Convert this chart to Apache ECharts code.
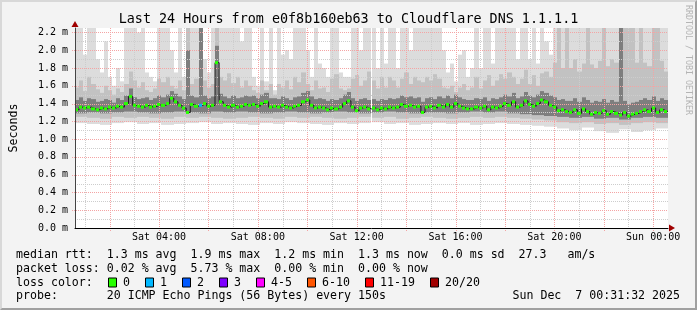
<!DOCTYPE html>
<html><head><meta charset="utf-8">
<script src="https://cdn.jsdelivr.net/npm/echarts@6/dist/echarts.min.js"></script>
<style>
html,body{margin:0;padding:0;background:#f3f3f3;}
#wrap{position:relative;width:697px;height:310px;overflow:hidden;}
#chart{position:absolute;left:0;top:0;width:697px;height:310px;}
#frame{position:absolute;left:0;top:0;width:697px;height:310px;box-sizing:border-box;border-top:2px solid #d8d8d8;border-left:2px solid #d8d8d8;border-right:2px solid #a0a0a0;border-bottom:2px solid #a0a0a0;pointer-events:none;}
</style></head><body>
<div id="wrap"><div id="chart"></div><div id="frame"></div></div>
<script>
// time: hours since Sat 00:00; one column every 10 minutes, starting Sat 00:36
const startHour = 0.6;
const endHour = 24.6;
const stepHours = 1 / 6;
const xTickHours = [4, 8, 12, 16, 20, 24];
const gridHours = [1,2,3,4,5,6,7,8,9,10,11,12,13,14,15,16,17,18,19,20,21,22,23,24];
const gridLevels = [0.1,0.2,0.3,0.4,0.5,0.6,0.7,0.8,0.9,1.0,1.1,1.2,1.3,1.4,1.5,1.6,1.7,1.8,1.9,2.0,2.1,2.2];
const dayNames = ['Sat', 'Sun'];

// median rtt (ms)
const median = [
1.33,1.36,1.35,1.36,1.34,1.33, 1.35,1.34,1.36,1.35,1.37,1.36, 1.40,1.48,1.38,1.37,1.36,1.38,
1.36,1.37,1.39,1.38,1.40,1.46, 1.42,1.38,1.35,1.30,1.39,1.37, 1.38,1.40,1.37,1.38,1.86,1.42,
1.38,1.36,1.38,1.36,1.37,1.39, 1.38,1.39,1.37,1.40,1.42,1.36, 1.37,1.36,1.38,1.36,1.35,1.37,
1.38,1.42,1.44,1.38,1.35,1.36, 1.35,1.33,1.35,1.34,1.36,1.40, 1.43,1.36,1.32,1.35,1.36,1.34,
1.35,1.33,1.35,1.34,1.36,1.35, 1.36,1.39,1.37,1.38,1.36,1.37, 1.30,1.36,1.37,1.35,1.38,1.36,
1.39,1.36,1.40,1.37,1.35,1.34, 1.34,1.36,1.35,1.37,1.33,1.36, 1.35,1.37,1.40,1.38,1.42,1.36,
1.38,1.43,1.39,1.37,1.40,1.44, 1.42,1.38,1.36,1.32,1.33,1.31, 1.30,1.33,1.29,1.34,1.31,1.28,
1.30,1.29,1.32,1.28,1.31,1.29, 1.27,1.30,1.26,1.28,1.29,1.31, 1.33,1.31,1.35,1.30,1.33,1.31
];
// lost pings per column (index, count) - all other columns lost 0
const lossEvents = [[30, 1]];

// smoke: outer (max) tops
const smokeHi1 = [
2.30,2.30,1.95,2.30,2.30,1.90, 1.75,2.10,1.70,1.60,1.80,1.65, 2.30,2.30,2.30,2.20,2.30,1.75,
1.70,1.65,2.30,2.30,2.30,2.00, 1.75,2.30,1.70,1.80,2.30,2.30, 2.30,1.90,1.75,2.30,2.30,2.30,
2.30,2.30,2.30,2.30,2.10,2.30, 2.30,1.70,1.60,2.30,1.65,2.30, 1.55,2.30,1.95,2.00,1.90,2.30,
2.30,2.30,2.00,1.70,2.30,1.85, 1.80,1.70,2.30,2.30,1.75,1.70, 1.70,2.30,2.30,2.00,2.30,2.30,
2.30,1.80,2.30,1.85,2.30,2.30, 1.80,2.30,2.30,2.00,2.30,2.30, 2.30,2.30,2.30,2.30,2.30,2.00,
1.75,1.85,1.65,1.95,2.00,1.70, 1.80,2.30,1.80,2.30,2.30,1.85, 2.30,2.30,2.30,2.30,2.30,1.90,
2.30,2.30,1.90,2.30,1.85,2.30, 2.10,1.95,2.30,2.30,2.30,2.30, 2.30,2.30,2.30,2.30,2.30,2.30,
2.30,2.30,2.30,2.30,2.30,2.30, 2.30,2.30,2.30,2.30,2.30,2.30, 2.30,2.30,2.30,2.30,2.30,2.30
];
// smoke: middle layer tops
const smokeHi2 = [
1.58,1.66,1.54,1.70,1.62,1.56, 1.52,1.60,1.55,1.50,1.57,1.53, 1.62,1.76,1.66,1.58,1.64,1.55,
1.53,1.57,1.68,1.64,1.70,1.60, 1.57,1.66,1.55,2.30,1.62,1.68, 2.30,1.66,1.58,1.62,2.30,1.70,
1.66,1.74,1.63,1.70,1.58,1.66, 1.60,1.55,1.52,1.66,1.55,1.62, 1.50,1.62,1.58,1.66,1.56,1.70,
1.64,1.75,1.62,1.55,1.66,1.57, 1.58,1.53,1.68,1.73,1.57,1.55, 1.57,1.68,1.72,1.60,1.66,1.76,
1.66,1.57,1.70,1.58,1.70,1.66, 1.58,1.68,1.75,1.62,1.70,1.66, 1.64,1.70,1.66,1.73,1.68,1.58,
1.57,1.60,1.53,1.58,1.62,1.55, 1.58,1.70,1.57,1.66,1.72,1.60, 1.66,1.73,1.68,1.75,1.70,1.62,
1.68,1.78,1.62,1.72,1.60,1.74, 1.76,1.70,1.86,2.30,1.80,2.30, 1.80,1.90,1.76,1.85,2.30,1.84,
1.80,1.88,2.30,1.82,1.90,1.86, 2.30,2.30,2.30,2.30,1.86,2.30, 1.86,1.82,2.30,2.30,1.88,1.76
];
// smoke: dark inner layer tops
const smokeHi3 = [
1.44,1.47,1.43,1.46,1.45,1.42, 1.43,1.45,1.44,1.41,1.46,1.44, 1.49,1.57,1.47,1.45,1.46,1.47,
1.44,1.46,1.49,1.47,1.50,1.54, 1.51,1.48,1.45,2.00,1.49,1.47, 2.30,1.49,1.46,1.48,2.05,1.51,
1.48,1.46,1.49,1.46,1.47,1.49, 1.48,1.49,1.46,1.50,1.52,1.46, 1.46,1.45,1.48,1.46,1.44,1.47,
1.48,1.52,1.54,1.48,1.45,1.46, 1.45,1.43,1.45,1.44,1.46,1.50, 1.53,1.46,1.43,1.45,1.46,1.44,
1.45,1.43,1.45,1.44,1.46,1.45, 1.46,1.49,1.47,1.48,1.46,1.47, 1.42,1.46,1.47,1.45,1.48,1.46,
1.49,1.46,1.50,1.47,1.45,1.44, 1.44,1.46,1.45,1.47,1.43,1.46, 1.45,1.47,1.50,1.48,1.52,1.46,
1.48,1.53,1.49,1.47,1.50,1.54, 1.52,1.49,1.47,1.44,1.45,1.43, 1.43,1.46,1.42,1.47,1.44,1.41,
1.43,1.42,1.45,1.41,1.44,1.42, 2.30,1.43,1.39,1.41,1.42,1.44, 1.46,1.44,1.48,1.43,1.46,1.44
];
// smoke bottoms (one value per 30 minutes)
const smokeLo1 = [
1.18,1.17,1.16,1.18,1.19,1.17,1.18,1.16,1.17,1.18,1.19,1.17,1.18,1.17,1.16,1.18,
1.17,1.19,1.18,1.17,1.16,1.18,1.17,1.18,1.19,1.17,1.18,1.16,1.17,1.18,1.17,1.18,
1.16,1.17,1.18,1.17,1.16,1.15,1.14,1.12,1.10,1.13,1.09,1.07,1.11,1.08,1.10,1.12
];
const smokeLo2 = [
1.25,1.24,1.23,1.25,1.24,1.25,1.24,1.23,1.25,1.24,1.25,1.24,1.23,1.24,1.25,1.24,
1.23,1.25,1.24,1.25,1.24,1.23,1.24,1.25,1.24,1.25,1.23,1.24,1.25,1.24,1.23,1.24,
1.25,1.24,1.25,1.24,1.23,1.22,1.21,1.19,1.18,1.19,1.17,1.18,1.16,1.18,1.19,1.18
];
const smokeLo3 = [
1.29,1.30,1.29,1.30,1.31,1.30,1.29,1.30,1.31,1.30,1.29,1.31,1.30,1.31,1.30,1.29,
1.30,1.31,1.30,1.29,1.30,1.31,1.30,1.29,1.30,1.31,1.30,1.29,1.30,1.30,1.29,1.30,
1.31,1.30,1.31,1.29,1.28,1.27,1.26,1.25,1.24,1.25,1.23,1.24,1.22,1.24,1.25,1.24
];

const titleText = 'Last 24 Hours from e0f8b160eb63 to Cloudflare DNS 1.1.1.1';
const rttLine = 'median rtt:  1.3 ms avg  1.9 ms max  1.2 ms min  1.3 ms now  0.0 ms sd  27.3   am/s';
const lossLine = 'packet loss: 0.02 % avg  5.73 % max  0.00 % min  0.00 % now';
const lossColorLabel = 'loss color:';
const lossLabels = ['0', '1', '2', '3', '4-5', '6-10', '11-19', '20/20'];
const lossColors = ['#26ff00', '#00b8ff', '#0059ff', '#7e00ff', '#ff00ff', '#ff5500', '#ff0000', '#a10000'];
const lossThresholds = [0, 1, 2, 3, 5, 10, 19, 20];
const probeLine = 'probe:       20 ICMP Echo Pings (56 Bytes) every 150s';
const dateLine = 'Sun Dec  7 00:31:32 2025';
const creditLine = 'RRDTOOL / TOBI OETIKER';

const MONO = '"DejaVu Sans Mono", monospace';
const MAJOR = '#f4a4a4', MINOR = '#cdcdcd';
const N = median.length;
const tStart = i => startHour + i * stepHours;

function band(hi, lo) {
  return hi.map((h, i) => [tStart(i), tStart(i) + stepHours, lo[Math.floor(i * lo.length / N)], h]);
}
function rectRenderer(color) {
  return function (params, api) {
    const a = api.coord([api.value(0), api.value(3)]);
    const b = api.coord([api.value(1), api.value(2)]);
    const x0 = Math.round(a[0]), x1 = Math.round(b[0]);
    return { type: 'rect', shape: { x: x0, y: a[1], width: x1 - x0, height: b[1] - a[1] }, style: { fill: color } };
  };
}
const lossMap = {};
lossEvents.forEach(e => { lossMap[e[0]] = e[1]; });
function lossColorFor(n) {
  for (let k = 0; k < lossThresholds.length; k++) if (n <= lossThresholds[k]) return lossColors[k];
  return lossColors[lossColors.length - 1];
}
const medianRects = median.map((m, i) => [tStart(i), tStart(i) + stepHours, m, lossMap[i] || 0]);
const medianLine = median.map((m, i) => [tStart(i), m]);
medianLine.push([endHour, median[N - 1]]);

function smokeSeries(data, color, z) {
  return { type: 'custom', data: data, renderItem: rectRenderer(color), clip: true, z: z, silent: true,
    encode: { x: [0, 1], y: [2, 3] } };
}

// grid lines drawn crisp on top of the smoke
const vGridSeries = {
  type: 'custom', data: gridHours.map(h => [h]), clip: false, z: 3, silent: true, encode: { x: 0 },
  renderItem: function (params, api) {
    const h = api.value(0);
    const x = Math.round(api.coord([h, 0])[0]) + 0.5;
    const cs = params.coordSys;
    const major = h % 2 === 0;
    return { type: 'line', shape: { x1: x, y1: cs.y, x2: x, y2: cs.y + cs.height + (major ? 3 : 0) },
      style: { stroke: major ? MAJOR : MINOR, lineWidth: 1, lineDash: [1, 1] } };
  }
};
const hGridSeries = {
  type: 'custom', data: gridLevels.map(v => [v]), clip: false, z: 3, silent: true, encode: { y: 0 },
  renderItem: function (params, api) {
    const v = api.value(0);
    const y = Math.round(api.coord([startHour, v])[1]) + 0.5;
    const cs = params.coordSys;
    const major = Math.round(v * 10) % 2 === 0;
    return { type: 'line', shape: { x1: cs.x - (major ? 3 : 0), y1: y, x2: cs.x + cs.width, y2: y },
      style: { stroke: major ? MAJOR : MINOR, lineWidth: 1, lineDash: [1, 1] } };
  }
};

const graphics = [];
function txt(x, y, s, opts) {
  return Object.assign({ type: 'text', x: x, y: y, silent: true,
    style: Object.assign({ text: s, fill: '#000', fontFamily: MONO, fontSize: 11.6,
      align: 'left', verticalAlign: 'middle', textAlign: 'left', textVerticalAlign: 'middle' }, opts || {}) });
}
const rowY = [255, 268.5, 282.5, 296];
graphics.push(txt(16, rowY[0], rttLine));
graphics.push(txt(16, rowY[1], lossLine));
graphics.push(txt(16, rowY[2], lossColorLabel));
let bx = 108;
lossLabels.forEach((lab, k) => {
  graphics.push({ type: 'rect', silent: true, shape: { x: bx + 0.5, y: rowY[2] - 4.5, width: 8, height: 9 },
    style: { fill: lossColors[k], stroke: '#000', lineWidth: 1 } });
  graphics.push(txt(bx + 15, rowY[2], lab));
  bx += 15 + lab.length * 7 + 15;
});
graphics.push(txt(16, rowY[3], probeLine));
graphics.push(txt(680, rowY[3], dateLine, { align: 'right', textAlign: 'right' }));
graphics.push({ type: 'text', x: 688, y: 5, rotation: -Math.PI / 2, silent: true,
  style: { text: creditLine, fill: '#b4b4b4', fontFamily: MONO, fontSize: 8.3,
    align: 'left', verticalAlign: 'middle', textAlign: 'left', textVerticalAlign: 'middle' } });

const chart = echarts.init(document.getElementById('chart'), null, { renderer: 'canvas' });
chart.setOption({
  animation: false,
  backgroundColor: '#f3f3f3',
  title: { text: titleText, left: 'center', top: 13, padding: 0,
    textStyle: { fontFamily: MONO, fontSize: 13.4, fontWeight: 'normal', color: '#000' } },
  grid: { left: 67, right: 29, top: 28, bottom: 82, show: true, backgroundColor: '#ffffff', borderWidth: 0 },
  xAxis: [{
    type: 'value', min: startHour, max: endHour, position: 'bottom', z: 6,
    axisLine: { show: true, onZero: false, lineStyle: { color: '#000', width: 1 } },
    axisTick: { show: false },
    axisLabel: { customValues: xTickHours, margin: 4, fontFamily: MONO, fontSize: 10, color: '#000',
      formatter: v => dayNames[Math.floor(v / 24)] + ' ' + String(v % 24).padStart(2, '0') + ':00' },
    splitLine: { show: false }
  }, {
    type: 'value', min: 0, max: 1, position: 'bottom', z: 7,
    axisLine: { show: true, onZero: false, symbol: ['none', 'triangle'], symbolSize: [7, 6], symbolOffset: [0, 4],
      lineStyle: { color: '#a00000', width: 0 } },
    axisTick: { show: false }, axisLabel: { show: false }, splitLine: { show: false }
  }],
  yAxis: [{
    type: 'value', min: 0, max: 2.25, interval: 0.1, position: 'left', z: 6,
    name: 'Seconds', nameLocation: 'middle', nameGap: 55, nameRotate: 90,
    nameTextStyle: { fontFamily: MONO, fontSize: 11.6, color: '#000' },
    axisLine: { show: true, onZero: false, lineStyle: { color: '#444', width: 1 } },
    axisTick: { show: false },
    axisLabel: { margin: 7, fontFamily: MONO, fontSize: 10, color: '#000',
      formatter: v => { const k = Math.round(v * 10); return (k % 2 || v > 2.2001) ? '' : (k / 10).toFixed(1) + ' m'; } },
    splitLine: { show: false }
  }, {
    type: 'value', min: 0, max: 1, position: 'left', z: 7,
    axisLine: { show: true, onZero: false, symbol: ['none', 'triangle'], symbolSize: [7, 6], symbolOffset: [0, 4],
      lineStyle: { color: '#a00000', width: 0 } },
    axisTick: { show: false }, axisLabel: { show: false }, splitLine: { show: false }
  }],
  series: [
    smokeSeries(band(smokeHi1, smokeLo1), '#dcdcdc', 1),
    smokeSeries(band(smokeHi2, smokeLo2), '#c2c2c2', 1),
    smokeSeries(band(smokeHi3, smokeLo3), '#7e7e7e', 1),
    vGridSeries,
    hGridSeries,
    { type: 'line', data: medianLine, step: 'end', symbol: 'none', z: 4, silent: true,
      lineStyle: { color: '#1e1e1e', width: 1 } },
    { type: 'custom', data: medianRects, clip: true, z: 5, silent: true, encode: { x: [0, 1], y: 2 },
      renderItem: function (params, api) {
        const a = api.coord([api.value(0), api.value(2)]);
        const b = api.coord([api.value(1), api.value(2)]);
        const x0 = Math.round(a[0]), x1 = Math.round(b[0]);
        return { type: 'rect', shape: { x: x0, y: a[1] - 1.5, width: Math.max(2, x1 - x0 - 1), height: 3 },
          style: { fill: lossColorFor(api.value(3)) } };
      } }
  ],
  graphic: graphics
});
</script>
</body></html>
